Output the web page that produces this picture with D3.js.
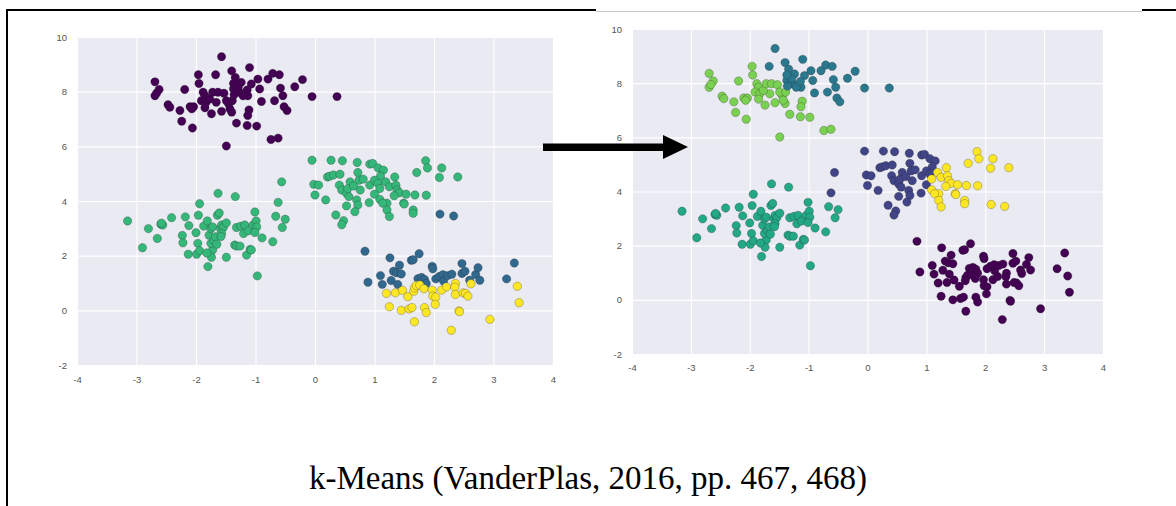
<!DOCTYPE html>
<html>
<head>
<meta charset="utf-8">
<script src="https://cdn.jsdelivr.net/npm/d3@7"></script>
<style>
  body { margin: 0; background: #fff; }
  .tick text { font-family: "Liberation Sans", Arial, sans-serif; font-size: 9.5px; fill: #555; }
  .caption { font-family: "Liberation Serif", "Times New Roman", serif; font-size: 33px; fill: #000; }
</style>
</head>
<body>
<svg width="1176" height="506"></svg>
<script>
// Same 300 points in both panels, grouped by (left colour, right colour)

// top blob: purple on the left, light green / teal on the right
var topGreen = [[-2.69,8.36],[-2.62,8.08],[-2.69,7.85],[-2.66,7.95],[-2.47,7.52],[-2.44,7.43],[-2.27,7.31],[-2.24,6.92],
	[-2.19,8.08],[-2.06,6.67],[-2.10,7.45],[-2.04,7.45],[-2.07,7.37],[-1.96,8.62],[-1.95,8.30],[-1.74,7.19],[-1.57,7.28],
	[-1.66,7.61],[-1.49,6.01],[-1.32,6.85],[-1.45,7.55],[-1.40,7.25],[-1.11,7.33],[-1.13,7.13],[-1.14,6.76],[-0.98,6.74],
	[-0.74,6.25],[-0.62,6.30],[-1.88,7.98],[-1.85,7.85],[-1.91,7.67],[-1.83,7.61],[-1.85,7.41],[-1.77,7.73],[-1.72,7.98],
	[-1.63,7.98],[-1.53,7.94],[-1.49,7.67],[-1.43,7.37],[-1.39,7.67]];
var topTeal = [[-1.57,9.28],[-1.67,8.62],[-1.40,8.76],[-1.34,8.52],[-1.37,8.10],[-1.24,8.34],[-1.27,7.98],[-1.10,8.88],
	[-1.13,7.85],[-1.07,8.28],[-0.93,8.10],[-0.90,7.64],[-0.96,8.46],[-0.79,8.46],[-0.71,8.67],[-0.60,8.62],[-0.58,8.13],
	[-0.68,7.67],[-0.54,7.85],[-0.52,7.45],[-0.47,7.31],[-0.34,8.18],[-0.21,8.44],[-0.05,7.82],[0.37,7.82],[-1.36,7.89],
	[-1.29,8.16],[-1.21,7.85],[-1.14,8.06],[-1.37,8.30]];

// lower left blob: green on both sides (two points go navy on the right)
var lowGreen = [[-3.15,3.27],[-2.90,2.29],[-2.80,2.99],[-2.65,2.63],[-2.59,3.15],[-2.56,3.12],[-2.58,3.19],[-2.41,3.39],
	[-2.23,2.74],[-2.22,2.47],[-2.18,3.42],[-2.12,3.10],[-2.13,2.05],[-1.99,2.05],[-2.00,2.84],[-1.96,3.48],[-1.94,3.90],
	[-1.97,2.45],[-1.94,2.18],[-1.87,3.08],[-1.81,3.27],[-1.80,1.60],[-1.78,2.75],[-1.75,2.99],[-1.72,3.05],[-1.72,2.21],
	[-1.75,2.45],[-1.70,2.57],[-1.64,3.48],[-1.61,3.56],[-1.59,2.99],[-1.57,3.12],[-1.54,3.03],[-1.57,2.81],[-1.67,2.69],
	[-1.65,2.42],[-1.74,1.94],[-1.49,3.20],[-1.49,1.94],[-1.35,2.39],[-1.32,2.35],[-1.26,2.35],[-1.32,3.03],[-1.25,3.08],
	[-1.18,3.12],[-1.20,2.81],[-1.15,2.02],[-1.12,2.91],[-1.09,2.23],[-1.07,2.21],[-1.04,3.12],[-1.01,3.60],[-0.99,3.27],
	[-0.98,3.05],[-1.01,2.85],[-0.97,1.26],[-0.89,2.65],[-0.71,2.51],[-0.66,3.44],[-0.55,3.03],[-0.50,3.33],[-1.63,4.28],
	[-1.34,4.16],[-1.82,2.10],[-1.58,2.70]];
var lowNavy = [[-0.62,3.95],[-0.56,4.70]];

// middle blob: green on the left, navy / yellow on the right
var midNavy = [[-0.05,5.49],[0.27,5.49],[0.46,5.47],[0.71,5.41],[0.92,5.35],[0.97,5.37],[1.06,5.21],[1.15,5.13],
	[1.10,4.91],[0.72,5.04],[0.74,4.76],[0.81,4.80],[0.21,4.88],[0.25,4.91],[0.31,4.95],[0.42,4.98],[-0.02,4.61],
	[0.06,4.58],[0.00,4.22],[0.18,4.04],[0.41,4.58],[0.45,4.40],[0.59,4.70],[0.53,4.28],[0.57,4.16],[0.70,4.04],
	[0.76,4.40],[0.92,4.58],[1.00,4.76],[1.06,4.64],[1.00,4.25],[0.91,3.94],[0.35,3.49],[0.48,3.28],[0.45,3.13],
	[0.53,3.82],[0.72,3.85],[0.67,3.61],[0.55,4.45],[0.65,4.55]];
var midYellow = [[1.86,5.47],[1.89,5.21],[2.13,5.21],[2.09,4.86],[1.71,5.04],[2.40,4.88],[1.34,4.88],[1.09,4.46],
	[1.09,4.06],[1.19,4.70],[1.25,4.52],[1.36,4.58],[1.38,4.40],[1.42,4.30],[1.33,4.19],[1.53,4.25],[1.68,4.22],
	[1.87,4.21],[1.49,3.92],[1.21,3.92],[1.14,3.92],[1.21,3.67],[1.25,3.43],[1.50,3.89],[1.65,3.67],[1.65,3.55]];

// lower right: blue / yellow on the left, purple on the right
var blueYellow = [[2.10,3.52],[2.33,3.45]];
var bluePurple = [[0.84,2.16],[0.89,1.03],[1.10,1.27],[1.13,0.95],[1.26,1.92],[1.28,1.09],[1.32,1.43],[1.37,1.37],
	[1.42,1.65],[1.45,1.33],[1.39,0.95],[1.62,1.83],[1.65,1.85],[1.75,2.07],[1.73,1.16],[1.79,1.20],[1.84,1.13],
	[1.87,0.98],[1.97,1.61],[1.98,1.52],[2.03,1.15],[2.09,1.24],[2.15,1.30],[2.16,1.07],[2.23,1.27],[2.30,1.32],
	[2.47,1.71],[2.47,1.35],[2.52,1.43],[2.60,1.10],[2.70,1.31],[2.74,1.56],[2.77,1.10],[3.22,1.15],[3.35,1.73]];
var yellowPurple = [[1.20,0.62],[1.25,0.13],[1.35,0.64],[1.47,0.73],[1.45,0.00],[1.56,0.50],[1.58,0.05],[1.63,0.10],
	[1.66,0.70],[1.67,0.82],[1.70,0.91],[1.67,-0.42],[1.76,0.93],[1.83,0.79],[1.84,0.10],[1.87,-0.08],[1.97,0.74],
	[1.98,0.52],[2.03,0.48],[2.02,0.22],[2.13,0.74],[2.21,0.86],[2.36,0.98],[2.35,0.85],[2.36,0.58],[2.42,-0.02],
	[2.43,-0.05],[2.29,-0.73],[2.49,0.64],[2.53,0.62],[2.57,0.52],[2.62,0.97],[2.94,-0.33],[3.40,0.88],[3.43,0.28]];

// cluster ids per group: [left (4 clusters), right (6 clusters)]
var groups = [
	{pts: topGreen, left: 0, right: 4},
	{pts: topTeal, left: 0, right: 2},
	{pts: lowGreen, left: 2, right: 3},
	{pts: lowNavy, left: 2, right: 1},
	{pts: midNavy, left: 2, right: 1},
	{pts: midYellow, left: 2, right: 5},
	{pts: blueYellow, left: 1, right: 5},
	{pts: bluePurple, left: 1, right: 0},
	{pts: yellowPurple, left: 3, right: 0}
];

var ticksX = [-4, -3, -2, -1, 0, 1, 2, 3, 4],
	ticksY = [-2, 0, 2, 4, 6, 8, 10];

var colorsLeft = ["#440154", "#31688e", "#35b779", "#fde725"],
	colorsRight = ["#440154", "#414487", "#2a788e", "#22a884", "#7ad151", "#fde725"];

var points = [];
groups.forEach(function(g) {
	g.pts.forEach(function(p) {
		points.push({x: p[0], y: p[1], left: g.left, right: g.right});
	});
});

var svg = d3.select("svg");

svg.append("rect").attr("width", 1176).attr("height", 506).attr("fill", "#fff");

// page frame (partly covered by the pasted screenshot)
svg.append("line").attr("x1", 7).attr("x2", 7).attr("y1", 9).attr("y2", 506)
	.attr("stroke", "#000").attr("stroke-width", 2);
svg.append("line").attr("x1", 6).attr("x2", 596).attr("y1", 10).attr("y2", 10)
	.attr("stroke", "#000").attr("stroke-width", 2);
svg.append("line").attr("x1", 1142).attr("x2", 1176).attr("y1", 10).attr("y2", 10)
	.attr("stroke", "#000").attr("stroke-width", 2);
svg.append("line").attr("x1", 596).attr("x2", 1142).attr("y1", 11.5).attr("y2", 11.5)
	.attr("stroke", "#c8c8c8").attr("stroke-width", 1);

function drawPanel(box, colors, key) {
	var x = d3.scaleLinear().domain([-4, 4]).range([box.x0, box.x1]),
		y = d3.scaleLinear().domain([-2, 10]).range([box.y1, box.y0]);

	var g = svg.append("g");

	g.append("rect")
		.attr("x", box.x0).attr("y", box.y0)
		.attr("width", box.x1 - box.x0).attr("height", box.y1 - box.y0)
		.attr("fill", "#eaeaf2");

	var gx = g.append("g")
		.attr("transform", "translate(0," + box.y1 + ")")
		.call(d3.axisBottom(x).tickValues(ticksX).tickSize(-(box.y1 - box.y0))
			.tickPadding(box.padX).tickFormat(d3.format("d")));
	var gy = g.append("g")
		.attr("transform", "translate(" + box.x0 + ",0)")
		.call(d3.axisLeft(y).tickValues(ticksY).tickSize(-(box.x1 - box.x0))
			.tickPadding(10).tickFormat(d3.format("d")));

	[gx, gy].forEach(function(a) {
		a.select(".domain").remove();
		a.selectAll(".tick line").attr("stroke", "#fff").attr("stroke-width", 1.1);
		a.selectAll(".tick text").text(function(d) { return String(d); });
	});

	g.append("g")
		.selectAll("circle")
		.data(points).enter()
		.append("circle")
		.attr("cx", function(d) { return x(d.x); })
		.attr("cy", function(d) { return y(d.y); })
		.attr("r", 4.2)
		.attr("fill", function(d) { return colors[d[key]]; })
		.attr("stroke", "#222")
		.attr("stroke-opacity", 0.45)
		.attr("stroke-width", 0.6);
}

drawPanel({x0: 77, x1: 553, y0: 37, y1: 365, padX: 11}, colorsLeft, "left");
drawPanel({x0: 632, x1: 1103, y0: 29, y1: 354, padX: 10}, colorsRight, "right");

// arrow between the two panels
svg.append("path")
	.attr("d", "M543,143.5 L663,143.5 L663,135 L688,147 L663,159 L663,151 L543,151 Z")
	.attr("fill", "#000");

svg.append("text")
	.attr("class", "caption")
	.attr("x", 588).attr("y", 489)
	.attr("text-anchor", "middle")
	.text("k-Means (VanderPlas, 2016, pp. 467, 468)");
</script>
</body>
</html>
